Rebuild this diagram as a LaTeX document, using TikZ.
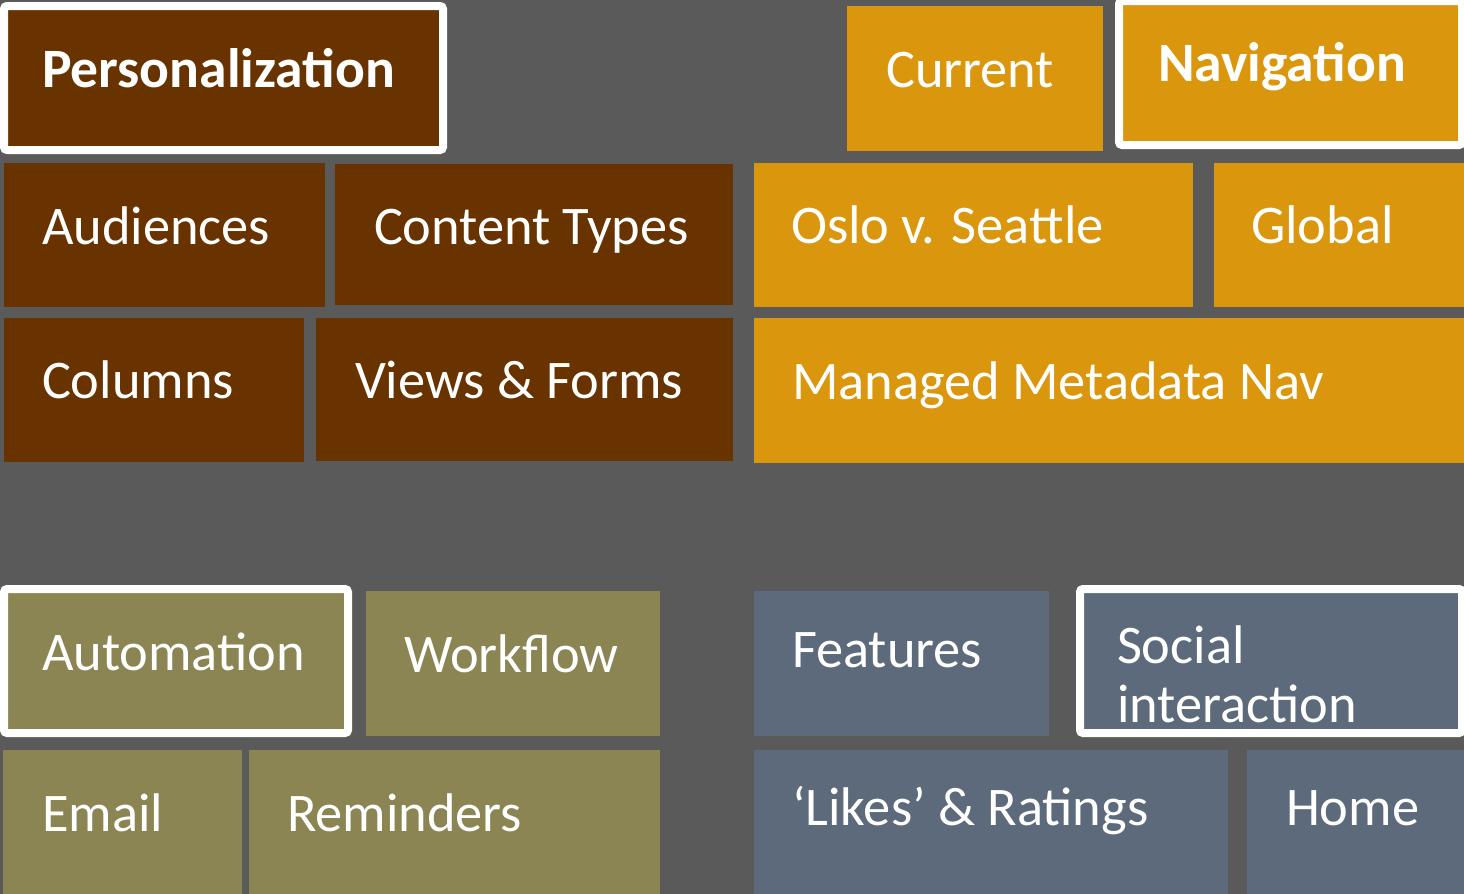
\documentclass[tikz,border=0pt]{standalone}
\usepackage{fontspec}
\setmainfont{Carlito}
\usetikzlibrary{fit}
\definecolor{bg}{HTML}{5A5A5A}
\definecolor{brownT}{HTML}{693300}
\definecolor{orangeT}{HTML}{DA960D}
\definecolor{oliveT}{HTML}{8B8453}
\definecolor{slateT}{HTML}{5D6A7B}
\begin{document}
\begin{tikzpicture}[x=0.5pt,y=-0.5pt,
  tile/.style={inner sep=0pt, outer sep=0pt, fill=#1},
  sel/.style={draw=white, line width=4pt, rounded corners=1.5pt},
  lbl/.style={anchor=base west, inner sep=0pt, outer sep=0pt, text=white, align=left,
              font=\fontsize{27.2}{29.5}\selectfont},
  blbl/.style={lbl, font=\fontsize{27.8}{29.5}\selectfont\bfseries}]
\fill[bg] (0,0) rectangle (1464,894);
\useasboundingbox (0,0) rectangle (1464,894);

% Personalization group
\node[tile=brownT, sel, fit={(4,6)(443,150)}] (pers) {};
\node[tile=brownT, fit={(4,163)(325,307)}] (aud) {};
\node[tile=brownT, fit={(335,164)(733,305)}] (ct) {};
\node[tile=brownT, fit={(4,318)(304,462)}] (col) {};
\node[tile=brownT, fit={(316,318)(733,461)}] (vf) {};

% Navigation group
\node[tile=orangeT, fit={(847,6)(1103,151)}] (cur) {};
\node[tile=orangeT, sel, fit={(1119,1)(1462,145)}] (nav) {};
\node[tile=orangeT, fit={(754,163)(1193,307)}] (oslo) {};
\node[tile=orangeT, fit={(1214,163)(1464,307)}] (glob) {};
\node[tile=orangeT, fit={(754,318)(1464,463)}] (mmn) {};

% Automation group
\node[tile=oliveT, sel, fit={(4,589)(348,733)}] (auto) {};
\node[tile=oliveT, fit={(366,591)(660,736)}] (wf) {};
\node[tile=oliveT, fit={(3,750)(242,894)}] (email) {};
\node[tile=oliveT, fit={(249,750)(660,894)}] (rem) {};

% Social group
\node[tile=slateT, fit={(754,591)(1049,736)}] (feat) {};
\node[tile=slateT, sel, fit={(1080,589)(1462,733)}] (soc) {};
\node[tile=slateT, fit={(754,750)(1228,894)}] (likes) {};
\node[tile=slateT, fit={(1247,750)(1464,894)}] (home) {};

% Labels
\node[blbl] (persT) at (42,87) {Personalization};
\node[lbl] (curT) at (886,87) {Current};
\node[blbl] (navT) at (1158,82) {Navigation};
\node[lbl] (audT) at (42,244) {Audiences};
\node[lbl] (ctT) at (374,244) {Content Types};
\node[lbl] (osloT) at (791,243) {Oslo v. Seattle};
\node[lbl] (globT) at (1251,243) {Global};
\node[lbl] (colT) at (42,398) {Columns};
\node[lbl] (vfT) at (355,398) {Views \& Forms};
\node[lbl] (mmnT) at (792,399) {Managed Metadata Nav};
\node[lbl] (autoT) at (42,670) {Automation};
\node[lbl] (wfT) at (404,672) {Workflow};
\node[lbl] (featT) at (792,667) {Features};
\node[lbl] (socT) at (1117,722) {Social\\interaction};
\node[lbl] (emailT) at (42,831) {Email};
\node[lbl] (remT) at (287,831) {Reminders};
\node[lbl] (likesT) at (792,825) {‘Likes’ \& Ratings};
\node[lbl] (homeT) at (1286,825) {Home};
\end{tikzpicture}
\end{document}
